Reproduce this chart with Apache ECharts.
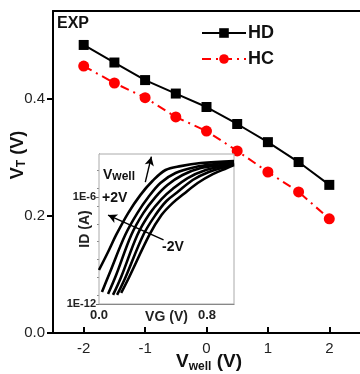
<!DOCTYPE html>
<html>
<head>
<meta charset="utf-8">
<script src="https://cdn.jsdelivr.net/npm/echarts@6/dist/echarts.min.js"></script>
<style>html,body{margin:0;padding:0;background:#fff}#c{width:360px;height:374px}</style>
</head>
<body>
<div id="c"></div>
<script>
// Main chart data
const vwell = [-2, -1.5, -1, -0.5, 0, 0.5, 1, 1.5, 2];
const hd = [0.492, 0.462, 0.432, 0.409, 0.386, 0.357, 0.326, 0.292, 0.253];
const hc = [0.456, 0.427, 0.402, 0.369, 0.345, 0.311, 0.275, 0.241, 0.195];
const xTicks = [-2, -1, 0, 1, 2];
const yTicks = [0, 0.2, 0.4];

// Inset: ID-VG curves, [VG (V), log10 ID (A)]
const insetC1 = [[0,-10.09],[0.067,-9.08],[0.127,-8.12],[0.216,-6.89],[0.306,-5.88],[0.396,-5.09],[0.493,-4.47],[0.604,-4.25],[0.754,-4.08],[1.0,-3.97]];
const insetC2 = [[0.022,-11.33],[0.082,-10.20],[0.194,-8.12],[0.284,-6.89],[0.366,-5.99],[0.455,-5.20],[0.567,-4.64],[0.716,-4.30],[0.866,-4.13],[1.0,-4.02]];
const insetC3 = [[0.067,-11.44],[0.127,-10.37],[0.239,-8.12],[0.328,-6.89],[0.418,-5.99],[0.507,-5.31],[0.619,-4.75],[0.754,-4.36],[0.903,-4.19],[1.0,-4.08]];
const insetC4 = [[0.104,-11.49],[0.164,-10.48],[0.284,-8.12],[0.373,-6.94],[0.463,-6.10],[0.545,-5.54],[0.657,-4.92],[0.791,-4.47],[0.918,-4.25],[1.0,-4.08]];
const insetC5 = [[0.134,-11.49],[0.194,-10.54],[0.328,-8.12],[0.418,-7.0],[0.5,-6.21],[0.582,-5.71],[0.694,-5.03],[0.813,-4.58],[0.933,-4.30],[1.0,-4.13]];
const insetC6 = [[0.164,-11.38],[0.224,-10.48],[0.373,-8.12],[0.463,-7.0],[0.545,-6.33],[0.627,-5.82],[0.731,-5.20],[0.843,-4.70],[0.948,-4.36],[1.0,-4.19]];
const insetCurves = [insetC1, insetC2, insetC3, insetC4, insetC5, insetC6];
const insetXTicks = [0, 0.8];
const insetYTicks = [-12, -6];

const FF = '"Liberation Sans", Arial, sans-serif';
const chart = echarts.init(document.getElementById('c'), null, {renderer: 'canvas'});

const insetSeries = insetCurves.map((c, i) => ({
  type: 'line', xAxisIndex: 2, yAxisIndex: 1, data: c, smooth: 0.35,
  showSymbol: false, silent: true, z: 5,
  lineStyle: {color: '#000', width: 2.6},
  markLine: i === 0 ? {
    silent: true, symbol: ['none', 'arrow'], symbolSize: [7, 9],
    label: {show: false},
    lineStyle: {color: '#000', width: 1.4, type: 'solid'},
    data: [
      [{coord: [0.478, -8.40]}, {coord: [0.067, -7.0]}],
      [{coord: [0.343, -5.15]}, {coord: [0.388, -3.72]}]
    ]
  } : undefined
}));

chart.setOption({
  animation: false,
  backgroundColor: '#fff',
  grid: [
    {left: 53, top: 11, width: 310, height: 322},
    {left: 99, top: 154, width: 135, height: 150, show: true, backgroundColor: '#fff', borderColor: '#aaa', borderWidth: 1, z: 4}
  ],
  xAxis: [
    {
      gridIndex: 0, type: 'value', min: -2.5, max: 2.5, interval: 0.5,
      axisLine: {onZero: false, lineStyle: {color: '#000', width: 2}},
      axisTick: {inside: true, length: 6, lineStyle: {color: '#000', width: 2}, customValues: xTicks},
      axisLabel: {customValues: xTicks, color: '#222', fontSize: 15, fontFamily: FF, margin: 8},
      splitLine: {show: false}
    },
    {
      gridIndex: 0, type: 'value', position: 'top', min: -2.5, max: 2.5,
      axisLine: {onZero: false, lineStyle: {color: '#000', width: 2}}, axisTick: {show: false}, axisLabel: {show: false}, splitLine: {show: false}
    },
    {
      gridIndex: 1, type: 'value', min: 0, max: 1, interval: 0.2,
      axisLine: {onZero: false, lineStyle: {color: '#666', width: 1}},
      axisTick: {inside: true, length: 3, lineStyle: {color: '#666'}, customValues: insetXTicks},
      axisLabel: {customValues: insetXTicks, formatter: v => v.toFixed(1), color: '#222', fontSize: 13, fontWeight: 'bold', fontFamily: FF, margin: 5},
      splitLine: {show: false},
      name: 'VG (V)', nameLocation: 'middle', nameGap: 6, nameMoveOverlap: false,
      nameTextStyle: {color: '#222', fontSize: 14, fontWeight: 'bold', fontFamily: FF, verticalAlign: 'top'}
    }
  ],
  yAxis: [
    {
      gridIndex: 0, type: 'value', min: 0, max: 0.55, interval: 0.05,
      axisLine: {onZero: false, lineStyle: {color: '#000', width: 2}},
      axisTick: {inside: false, length: 6, lineStyle: {color: '#000', width: 2}, customValues: yTicks},
      axisLabel: {customValues: yTicks, formatter: v => v.toFixed(1), color: '#222', fontSize: 15, fontFamily: FF, margin: 8},
      splitLine: {show: false}
    },
    {
      gridIndex: 1, type: 'value', min: -12, max: -3.57, interval: 1,
      axisLine: {onZero: false, lineStyle: {color: '#666', width: 1}},
      axisTick: {inside: false, length: 3, lineStyle: {color: '#666'}, customValues: insetYTicks},
      minorTick: {show: true, splitNumber: 2, length: 2, lineStyle: {color: '#888'}},
      axisLabel: {customValues: insetYTicks, formatter: v => '1E' + v, color: '#222', fontSize: 11, fontWeight: 'bold', fontFamily: FF, margin: 3},
      splitLine: {show: false},
      name: 'ID (A)', nameLocation: 'middle', nameGap: 7, nameRotate: 90, nameMoveOverlap: false,
      nameTextStyle: {color: '#222', fontSize: 14, fontWeight: 'bold', fontFamily: FF, verticalAlign: 'bottom'}
    }
  ],
  legend: {
    orient: 'vertical', left: 196, top: 19, itemWidth: 44, itemHeight: 12, itemGap: 8,
    textStyle: {color: '#111', fontSize: 18, fontWeight: 'bold', fontFamily: FF, padding: [0, 0, 0, -3]},
    data: ['HD', 'HC']
  },
  series: [
    {
      name: 'HD', type: 'line', xAxisIndex: 0, yAxisIndex: 0,
      data: vwell.map((v, i) => [v, hd[i]]),
      symbol: 'rect', symbolSize: 10, z: 3,
      lineStyle: {color: '#000', width: 2}, itemStyle: {color: '#000'}
    },
    {
      name: 'HC', type: 'line', xAxisIndex: 0, yAxisIndex: 0,
      data: vwell.map((v, i) => [v, hc[i]]),
      symbol: 'circle', symbolSize: 11, z: 3,
      lineStyle: {color: '#f00', width: 2, type: [9, 5, 2, 5]}, itemStyle: {color: '#f00'}
    },
    ...insetSeries
  ],
  graphic: [
    {type: 'text', left: 57, top: 16, z: 10, style: {text: 'EXP', fill: '#111', font: 'bold 16px ' + FF}},
    {type: 'text', x: 103, y: 175, z: 10, style: {
      text: '{a|V}{b|well}', verticalAlign: 'middle',
      rich: {a: {fontSize: 14, fontWeight: 'bold', fontFamily: FF, fill: '#111'}, b: {fontSize: 12, fontWeight: 'bold', fontFamily: FF, fill: '#111', padding: [4, 0, 0, 0]}}
    }},
    {type: 'text', x: 102, y: 198, z: 10, style: {text: '+2V', fill: '#111', font: 'bold 14px ' + FF, verticalAlign: 'middle'}},
    {type: 'text', x: 162, y: 247, z: 10, style: {text: '-2V', fill: '#111', font: 'bold 14px ' + FF, verticalAlign: 'middle'}},
    {type: 'text', x: 18, y: 155, rotation: Math.PI / 2, z: 10, style: {
      text: '{a|V}{b|T}{a| (V)}', align: 'center', verticalAlign: 'middle',
      rich: {a: {fontSize: 18, fontWeight: 'bold', fontFamily: FF, fill: '#111'}, b: {fontSize: 12, fontWeight: 'bold', fontFamily: FF, fill: '#111', padding: [7, 0, 0, 0]}}
    }},
    {type: 'text', x: 209, y: 362, z: 10, style: {
      text: '{a|V}{b|well}{a| (V)}', align: 'center', verticalAlign: 'middle',
      rich: {a: {fontSize: 19, fontWeight: 'bold', fontFamily: FF, fill: '#111'}, b: {fontSize: 12, fontWeight: 'bold', fontFamily: FF, fill: '#111', padding: [9, 0, 0, 0]}}
    }}
  ]
});
</script>
</body>
</html>
